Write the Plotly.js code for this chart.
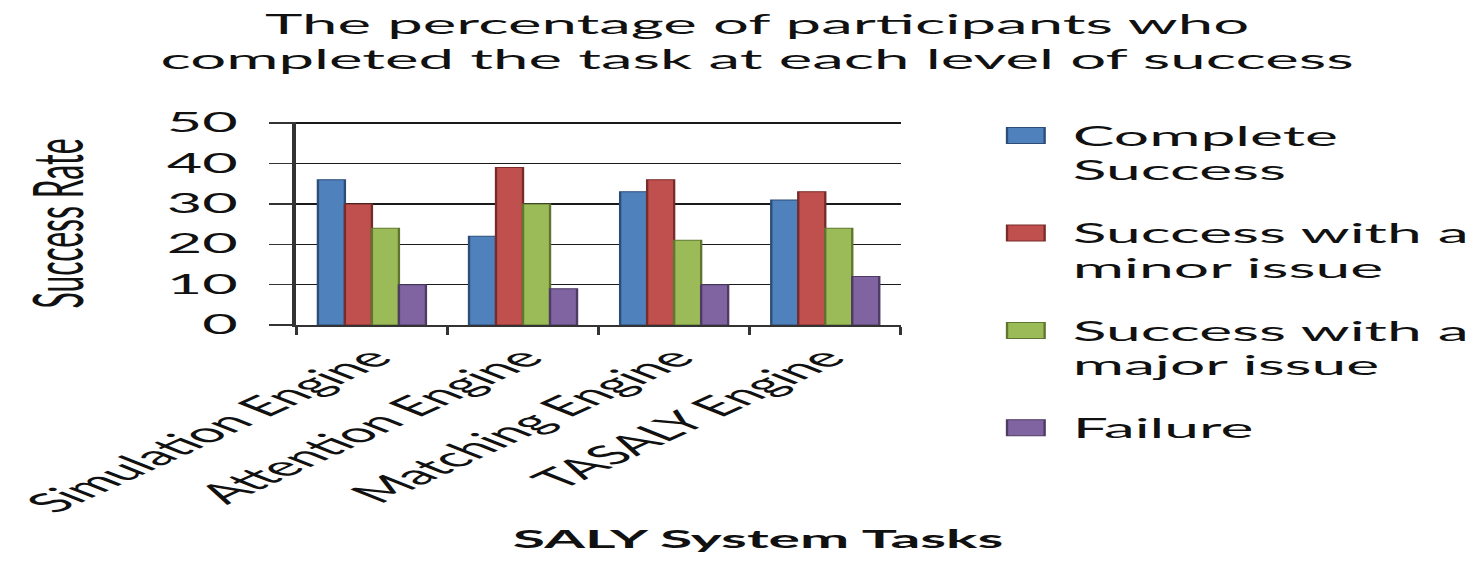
<!DOCTYPE html>
<html>
<head>
<meta charset="utf-8">
<script src="https://cdn.plot.ly/plotly-3.0.1.min.js"></script>
<style>
  body { margin: 0; overflow: hidden; background: #fff; }
  /* the reference is a horizontally stretched image, so the chart is drawn
     narrow and stretched back out (wider than the window so the legend
     does not push the plot margins; the spare part is off screen) */
  #plot { width: 680px; height: 563px; transform: scaleX(2.352); transform-origin: 0 0; }
</style>
</head>
<body>
<div id="plot"></div>
<script>
// data
let tasks = ["Simulation Engine", "Attention Engine", "Matching Engine", "TASALY Engine"];
let completeSuccess = [36, 22, 33, 31];
let minorIssue = [30, 39, 36, 33];
let majorIssue = [24, 30, 21, 24];
let failure = [10, 9, 10, 12];

let seriesNames = ["Complete<br>Success", "Success with a<br>minor issue", "Success with a<br>major issue", "Failure"];
let seriesValues = [completeSuccess, minorIssue, majorIssue, failure];
let seriesColors = ["#4f81bd", "#c0504d", "#9bbb59", "#8064a2"];
let edgeColors = ["#2c4d75", "#772c2a", "#5f7530", "#4d3b62"];

let data = [];

// bars
seriesValues.forEach((vals, i) => {
    data.push({
        x: tasks,
        y: vals,
        type: "bar",
        name: seriesNames[i],
        showlegend: false,
        marker: { color: seriesColors[i], line: { color: edgeColors[i], width: 1 } }
    });
});

// legend-only entries, so the swatches can be bigger than the bar default
seriesNames.forEach((name, i) => {
    data.push({
        x: [null],
        y: [null],
        type: "scatter",
        mode: "markers",
        name: name,
        legendgroup: "g" + i,
        marker: { symbol: "square", size: 16, color: seriesColors[i], line: { color: edgeColors[i], width: 1 } }
    });
});

let font = "Lato, 'Open Sans', sans-serif";

// visual px / 2.352 gives the layout px
let layout = {
    width: 680,
    height: 563,
    paper_bgcolor: "#fff",
    plot_bgcolor: "#fff",
    font: { family: font, color: "#111" },
    title: {
        text: "The percentage of participants who<br>completed the task at each level of success",
        xref: "container",
        x: 321.9 / 680,
        xanchor: "center",
        y: 0.939,
        yanchor: "top",
        font: { family: font, size: 27, color: "#111" }
    },
    barmode: "group",
    bargap: 0.285,
    bargroupgap: 0,
    margin: { l: 125.6, r: 297.3, t: 122, b: 238, pad: 0 },
    xaxis: {
        type: "category",
        tickangle: -47,
        ticks: "outside",
        tickson: "boundaries",
        ticklen: 8,
        tickwidth: 1.3,
        tickcolor: "#333",
        ticklabelstandoff: 5,
        showline: true,
        linecolor: "#333",
        linewidth: 1.5,
        showgrid: false,
        tickfont: { family: font, size: 27, color: "#111" },
        automargin: false
    },
    yaxis: {
        range: [0, 50.3],
        tickvals: [0, 10, 20, 30, 40, 50],
        ticks: "outside",
        ticklen: 10,
        tickwidth: 1.5,
        tickcolor: "#333",
        ticklabelstandoff: 8,
        showline: true,
        linecolor: "#333",
        linewidth: 1.7,
        showgrid: true,
        gridcolor: "#1a1a1a",
        gridwidth: 1.5,
        zeroline: false,
        tickfont: { family: font, size: 26, color: "#111" },
        title: { text: "Success Rate", standoff: 26, font: { family: font, size: 30, color: "#111" } },
        automargin: false
    },
    legend: {
        x: 1.129,
        xanchor: "left",
        y: 1.05,
        yanchor: "top",
        maxheight: 480,
        traceorder: "grouped",
        tracegroupgap: 25.5,
        valign: "top",
        font: { family: font, size: 26.5, color: "#111" }
    },
    annotations: [{
        text: "<b>SALY System Tasks</b>",
        xref: "paper",
        yref: "paper",
        x: 0.764,
        y: -1.049,
        xanchor: "center",
        yanchor: "middle",
        showarrow: false,
        font: { family: font, size: 25, color: "#111" }
    }]
};

Plotly.newPlot("plot", data, layout, { displayModeBar: false, staticPlot: true });
</script>
</body>
</html>
